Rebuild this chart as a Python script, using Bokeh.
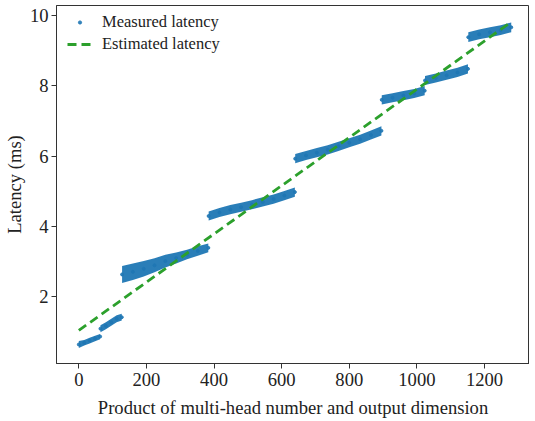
from bokeh.plotting import figure
from bokeh.models import Range1d, Legend, LegendItem, FixedTicker
from bokeh.embed import file_html
from bokeh.resources import INLINE

# ---- data (band of measured points per segment) ----
seg_a_x = [0, 16, 32, 48, 63]
seg_a_lo = [0.55, 0.62, 0.68, 0.74, 0.80]
seg_a_hi = [0.75, 0.78, 0.84, 0.90, 0.95]

seg_b_x = [64, 80, 96, 112, 127]
seg_b_lo = [1.00, 1.08, 1.18, 1.28, 1.33]
seg_b_hi = [1.20, 1.28, 1.38, 1.48, 1.52]

seg_c_x = [128, 160, 192, 224, 256, 288, 320, 352, 383]
seg_c_lo = [2.40, 2.48, 2.58, 2.70, 2.84, 2.95, 3.07, 3.17, 3.27]
seg_c_hi = [2.88, 2.95, 3.02, 3.10, 3.20, 3.26, 3.34, 3.44, 3.52]

seg_d_x = [384, 416, 448, 480, 512, 544, 576, 608, 639]
seg_d_lo = [4.17, 4.27, 4.35, 4.42, 4.49, 4.57, 4.65, 4.75, 4.85]
seg_d_hi = [4.43, 4.53, 4.61, 4.68, 4.75, 4.83, 4.91, 5.01, 5.11]

seg_e_x = [640, 672, 704, 736, 768, 800, 832, 864, 895]
seg_e_lo = [5.80, 5.89, 5.97, 6.05, 6.15, 6.25, 6.35, 6.47, 6.59]
seg_e_hi = [6.06, 6.15, 6.23, 6.31, 6.41, 6.51, 6.61, 6.73, 6.85]

seg_f_x = [896, 928, 960, 992, 1023]
seg_f_lo = [7.47, 7.53, 7.59, 7.65, 7.73]
seg_f_hi = [7.73, 7.79, 7.85, 7.91, 7.99]

seg_g_x = [1024, 1056, 1088, 1120, 1151]
seg_g_lo = [8.02, 8.09, 8.17, 8.25, 8.35]
seg_g_hi = [8.28, 8.35, 8.43, 8.51, 8.61]

seg_h_x = [1152, 1184, 1216, 1248, 1279]
seg_h_lo = [9.24, 9.32, 9.38, 9.44, 9.52]
seg_h_hi = [9.52, 9.60, 9.66, 9.72, 9.80]

est_x = [0, 1280]
est_y = [1.05, 9.82]

x_ticks = [0, 200, 400, 600, 800, 1000, 1200]
y_ticks = [2, 4, 6, 8, 10]

segments = [
    (seg_a_x, seg_a_lo, seg_a_hi),
    (seg_b_x, seg_b_lo, seg_b_hi),
    (seg_c_x, seg_c_lo, seg_c_hi),
    (seg_d_x, seg_d_lo, seg_d_hi),
    (seg_e_x, seg_e_lo, seg_e_hi),
    (seg_f_x, seg_f_lo, seg_f_hi),
    (seg_g_x, seg_g_lo, seg_g_hi),
    (seg_h_x, seg_h_lo, seg_h_hi),
]

BLUE = "#1f77b4"
GREEN = "#2ca02c"
FONT = "Liberation Serif"
TXT = "#222222"

p = figure(frame_width=473, frame_height=358, output_backend="svg", toolbar_location=None,
           x_range=Range1d(-66, 1333), y_range=Range1d(0.11, 10.28),
           min_border_left=0, min_border_right=0, min_border_top=5, min_border_bottom=0)
p.background_fill_color = "white"
p.border_fill_color = "white"
p.xgrid.visible = False
p.ygrid.visible = False
p.outline_line_color = "#333333"
p.outline_line_width = 1

dots = []
for sx, slo, shi in segments:
    p.varea(x=sx, y1=slo, y2=shi, fill_color=BLUE, fill_alpha=0.95)
    mid = [(a + b) / 2 for a, b in zip(slo, shi)]
    dots.append(p.scatter(x=sx, y=mid, size=3, color=BLUE, alpha=0.9))

est = p.line(est_x, est_y, line_color=GREEN, line_width=2.8, line_dash="9 5")

for ax in (p.xaxis[0], p.yaxis[0]):
    ax.axis_line_color = "#333333"
    ax.major_tick_line_color = "#333333"
    ax.major_tick_out = 5
    ax.major_tick_in = 0
    ax.minor_tick_line_color = None
    ax.major_label_text_font = FONT
    ax.major_label_text_font_size = "18.6px"
    ax.major_label_text_color = TXT
    ax.axis_label_text_font = FONT
    ax.axis_label_text_font_size = "18.6px"
    ax.axis_label_text_font_style = "normal"
    ax.axis_label_text_color = TXT

p.xaxis.ticker = FixedTicker(ticks=x_ticks)
p.yaxis.ticker = FixedTicker(ticks=y_ticks)
p.xaxis.axis_label = "Product of multi-head number and output dimension"
p.yaxis.axis_label = "Latency (ms)"
p.yaxis.major_label_standoff = 3
p.yaxis.axis_label_standoff = 2
p.xaxis.major_label_standoff = 4
p.xaxis.axis_label_standoff = 8

legend = Legend(items=[LegendItem(label="Measured latency", renderers=[dots[0]]),
                       LegendItem(label="Estimated latency", renderers=[est])],
                location=(11, 309), padding=0, margin=0, spacing=2,
                glyph_width=25, glyph_height=8, label_height=20, label_standoff=10,
                label_text_font=FONT, label_text_font_size="16.5px", label_text_color=TXT,
                background_fill_alpha=0, border_line_color=None)
p.add_layout(legend)

open("out.html", "w").write(file_html(p, INLINE))
